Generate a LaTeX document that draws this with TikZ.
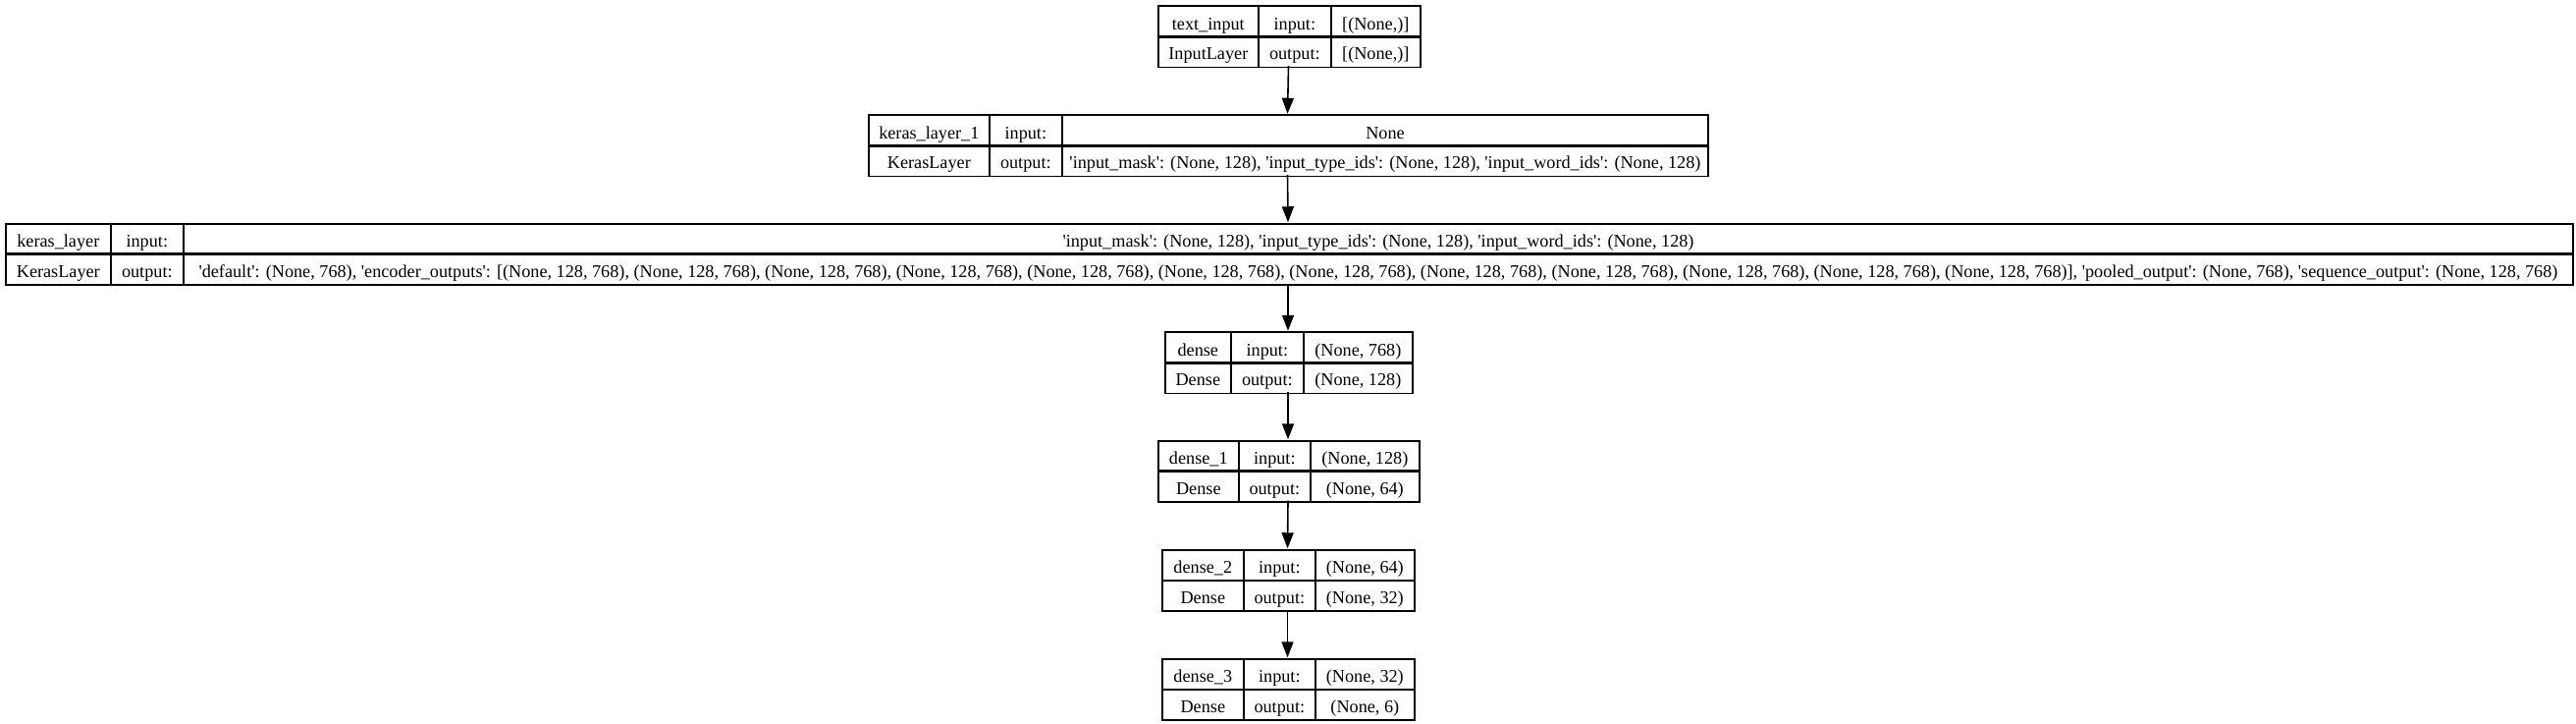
\documentclass[tikz,border=0pt]{standalone}
\usepackage{fontspec}
\setmainfont{Liberation Serif}
\usetikzlibrary{arrows.meta}
\usetikzlibrary{positioning}
\newcommand{\tq}{\textquotesingle}
\tikzset{
  cell/.style={draw, line width=0.016cm, anchor=north west, inner sep=0pt,
    minimum height=0.305cm, text height=0.68em, text depth=0.22em,
    font=\fontsize{5.18}{6.2}\selectfont},
  blk/.style={inner sep=0pt, minimum height=0.61cm},
  arr/.style={line width=0.016cm, -{Triangle[length=0.16cm,width=0.12cm]}}
}

\begin{document}
\begin{tikzpicture}[x=0.01cm, y=-0.01cm]
\useasboundingbox (0,0) rectangle (2624,737);
% text_input
\node[blk, minimum width=2.67cm] (inp) at (1312.5,36) {};
\node[cell, minimum width=1.02cm] (inp-name) at (1179,5.5) {text\_input};
\node[cell, minimum width=0.74cm] (inp-in) at (1281,5.5) {input:};
\node[cell, minimum width=0.91cm] (inp-inv) at (1355,5.5) {[(None,)]};
\node[cell, minimum width=1.02cm] (inp-cls) at (1179,36) {InputLayer};
\node[cell, minimum width=0.74cm] (inp-out) at (1281,36) {output:};
\node[cell, minimum width=0.91cm] (inp-outv) at (1355,36) {[(None,)]};

% keras_layer_1
\node[blk, minimum width=8.55cm] (kl1) at (1311.5,147) {};
\node[cell, minimum width=1.23cm] (kl1-name) at (884,116.5) {keras\_layer\_1};
\node[cell, minimum width=0.74cm] (kl1-in) at (1007,116.5) {input:};
\node[cell, minimum width=6.58cm] (kl1-inv) at (1081,116.5) {None};
\node[cell, minimum width=1.23cm] (kl1-cls) at (884,147) {KerasLayer};
\node[cell, minimum width=0.74cm] (kl1-out) at (1007,147) {output:};
\node[cell, minimum width=6.58cm] (kl1-outv) at (1081,147)
  {\tq input\_mask\tq: (None, 128), \tq input\_type\_ids\tq: (None, 128), \tq input\_word\_ids\tq: (None, 128)};

% keras_layer
\node[blk, minimum width=26.14cm] (kl) at (1312,257.5) {};
\node[cell, minimum width=1.07cm] (kl-name) at (5,227) {keras\_layer};
\node[cell, minimum width=0.74cm] (kl-in) at (112,227) {input:};
\node[cell, minimum width=24.33cm] (kl-inv) at (186,227)
  {\tq input\_mask\tq: (None, 128), \tq input\_type\_ids\tq: (None, 128), \tq input\_word\_ids\tq: (None, 128)};
\node[cell, minimum width=1.07cm] (kl-cls) at (5,257.5) {KerasLayer};
\node[cell, minimum width=0.74cm] (kl-out) at (112,257.5) {output:};
\node[cell, minimum width=24.33cm] (kl-outv) at (186,257.5)
  {\tq default\tq: (None, 768), \tq encoder\_outputs\tq: [(None, 128, 768), (None, 128, 768), (None, 128, 768), (None, 128, 768), (None, 128, 768), (None, 128, 768), (None, 128, 768), (None, 128, 768), (None, 128, 768), (None, 128, 768), (None, 128, 768), (None, 128, 768)], \tq pooled\_output\tq: (None, 768), \tq sequence\_output\tq: (None, 128, 768)};

% dense
\node[blk, minimum width=2.52cm] (d0) at (1312,368) {};
\node[cell, minimum width=0.67cm] (d0-name) at (1186,337.5) {dense};
\node[cell, minimum width=0.74cm] (d0-in) at (1253,337.5) {input:};
\node[cell, minimum width=1.11cm] (d0-inv) at (1327,337.5) {(None, 768)};
\node[cell, minimum width=0.67cm] (d0-cls) at (1186,368) {Dense};
\node[cell, minimum width=0.74cm] (d0-out) at (1253,368) {output:};
\node[cell, minimum width=1.11cm] (d0-outv) at (1327,368) {(None, 128)};

% dense_1
\node[blk, minimum width=2.66cm] (d1) at (1312,478.5) {};
\node[cell, minimum width=0.82cm] (d1-name) at (1179,448) {dense\_1};
\node[cell, minimum width=0.73cm] (d1-in) at (1261,448) {input:};
\node[cell, minimum width=1.11cm] (d1-inv) at (1334,448) {(None, 128)};
\node[cell, minimum width=0.82cm] (d1-cls) at (1179,478.5) {Dense};
\node[cell, minimum width=0.73cm] (d1-out) at (1261,478.5) {output:};
\node[cell, minimum width=1.11cm] (d1-outv) at (1334,478.5) {(None, 64)};

% dense_2
\node[blk, minimum width=2.57cm] (d2) at (1311.5,589.5) {};
\node[cell, minimum width=0.83cm] (d2-name) at (1183,559) {dense\_2};
\node[cell, minimum width=0.73cm] (d2-in) at (1266,559) {input:};
\node[cell, minimum width=1.01cm] (d2-inv) at (1339,559) {(None, 64)};
\node[cell, minimum width=0.83cm] (d2-cls) at (1183,589.5) {Dense};
\node[cell, minimum width=0.73cm] (d2-out) at (1266,589.5) {output:};
\node[cell, minimum width=1.01cm] (d2-outv) at (1339,589.5) {(None, 32)};

% dense_3
\node[blk, minimum width=2.57cm] (d3) at (1311.5,700.5) {};
\node[cell, minimum width=0.83cm] (d3-name) at (1183,670) {dense\_3};
\node[cell, minimum width=0.73cm] (d3-in) at (1266,670) {input:};
\node[cell, minimum width=1.01cm] (d3-inv) at (1339,670) {(None, 32)};
\node[cell, minimum width=0.83cm] (d3-cls) at (1183,700.5) {Dense};
\node[cell, minimum width=0.73cm] (d3-out) at (1266,700.5) {output:};
\node[cell, minimum width=1.01cm] (d3-outv) at (1339,700.5) {(None, 6)};

% arrows
\draw[arr] (inp.south) -- (kl1.north);
\draw[arr] (kl1.south) -- (kl.north);
\draw[arr] (kl.south) -- (d0.north);
\draw[arr] (d0.south) -- (d1.north);
\draw[arr] (d1.south) -- (d2.north);
\draw[arr] (d2.south) -- (d3.north);
\end{tikzpicture}
\end{document}
